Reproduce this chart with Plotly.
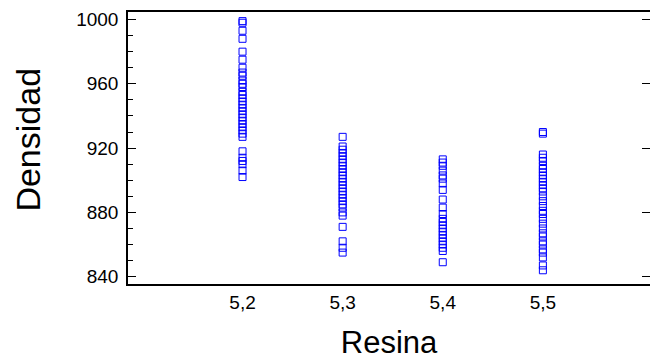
import plotly.graph_objects as go

resina_levels = [5.2, 5.3, 5.4, 5.5]
tick_labels = ["5,2", "5,3", "5,4", "5,5"]
y_ticks = [840, 880, 920, 960, 1000]

dens_52 = [999, 998, 993, 988, 980, 975, 970, 967, 965, 962, 960, 958, 955, 953, 951, 949, 947,
           945, 943, 941, 939, 937, 935, 933, 931, 929, 927, 918, 914, 912, 910, 906, 902]
dens_53 = [927, 921, 919, 917, 915, 913, 911, 909, 907, 905, 903, 901, 899, 897, 895, 893, 891,
           889, 887, 885, 883, 880, 878, 871, 862, 858, 855]
dens_54 = [913, 911, 909, 906, 903, 901, 898, 894, 888, 883, 879, 876, 874, 872, 870, 868, 866,
           864, 862, 860, 858, 856, 849]
dens_55 = [930, 929, 916, 914, 912, 909, 907, 905, 903, 901, 899, 897, 895, 893, 890, 887, 884,
           881, 879, 876, 873, 870, 867, 865, 862, 860, 857, 855, 852, 847, 844]

groups = [dens_52, dens_53, dens_54, dens_55]
xs, ys = [], []
for lvl, vals in zip(resina_levels, groups):
    xs += [lvl] * len(vals)
    ys += vals

y_range = [835.46, 1004.67]

fig = go.Figure()
fig.add_trace(go.Scatter(
    x=xs, y=ys, mode="markers",
    marker=dict(symbol="square-open", size=7, color="#0000FF", line=dict(width=1, color="#0000FF")),
    showlegend=False, hoverinfo="x+y",
))
# empty trace so the right-hand tick axis is drawn
fig.add_trace(go.Scatter(x=[None], y=[None], yaxis="y2", mode="markers",
                         showlegend=False, hoverinfo="skip"))

font_family = "Liberation Sans, Arial, sans-serif"
fig.update_layout(
    width=650, height=360,
    margin=dict(l=128, r=0, t=12, b=76),
    paper_bgcolor="white", plot_bgcolor="white",
    font=dict(family=font_family, color="black"),
    xaxis=dict(
        range=[5.0856, 5.607],
        tickvals=resina_levels, ticktext=tick_labels,
        ticks="", showgrid=False, zeroline=False,
        showline=True, linecolor="black", linewidth=1.5, mirror=True,
        tickfont=dict(size=19),
        title=dict(text="Resina", font=dict(size=31), standoff=21),
    ),
    yaxis=dict(
        range=y_range,
        tickvals=y_ticks,
        ticks="inside", ticklen=8, tickcolor="black", tickwidth=1,
        minor=dict(dtick=10, ticks="inside", ticklen=5, tickcolor="black", tickwidth=1, showgrid=False),
        showgrid=False, zeroline=False,
        showline=True, linecolor="black", linewidth=1.5, mirror=False,
        tickfont=dict(size=19),
        ticklabelstandoff=4,
    ),
    yaxis2=dict(
        range=y_range, overlaying="y", side="right",
        tickvals=y_ticks, showticklabels=False,
        ticks="inside", ticklen=8, tickcolor="black", tickwidth=1,
        showgrid=False, zeroline=False, showline=False,
    ),
    annotations=[dict(
        text="Densidad", textangle=-90, showarrow=False,
        xref="paper", yref="paper", x=-0.1906, y=0.529,
        xanchor="center", yanchor="middle",
        font=dict(size=34),
    )],
)

fig.write_html("out.html")
